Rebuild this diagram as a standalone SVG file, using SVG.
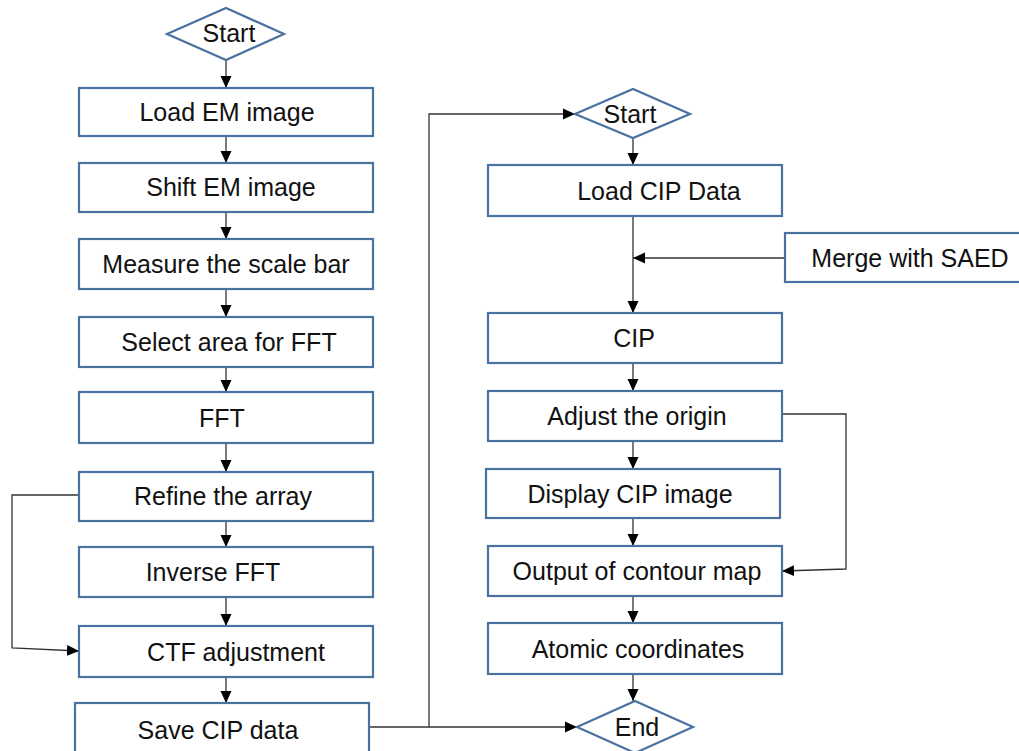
<svg xmlns="http://www.w3.org/2000/svg" width="1019" height="751" viewBox="0 0 1019 751">
<defs>
<marker id="ah" markerUnits="userSpaceOnUse" markerWidth="12" markerHeight="12" viewBox="0 0 12 12" refX="12" refY="6" orient="auto">
<path d="M0,0.5 L12,6 L0,11.5 Z" fill="#000"/>
</marker>
<style>
.box{fill:#fff;stroke:#4a72a0;stroke-width:2.2}
.t{font-family:"Liberation Sans",Arial,sans-serif;font-size:25px;fill:#111;text-anchor:middle}
.c{fill:none;stroke:#333;stroke-width:1.3}
.ca{fill:none;stroke:#333;stroke-width:1.3;marker-end:url(#ah)}
</style>
</defs>
<rect width="1019" height="751" fill="#fff"/>
<g id="connectors">
<path class="ca" d="M226,60 V88"/>
<path class="ca" d="M226,136 V163"/>
<path class="ca" d="M226,212 V239"/>
<path class="ca" d="M226,289 V317"/>
<path class="ca" d="M226,367 V392"/>
<path class="ca" d="M226,443 V472"/>
<path class="ca" d="M226,521 V547"/>
<path class="ca" d="M226,597 V626"/>
<path class="ca" d="M226,677 V703"/>
<path class="ca" d="M79,495 L12,495 L12,648 L79,651"/>
<path class="ca" d="M369,727 L577,727"/>
<path class="ca" d="M429,727 L429,114 L575,114"/>
<path class="ca" d="M633,138 V165"/>
<path class="ca" d="M633,216 V313"/>
<path class="ca" d="M785,258 L633,258"/>
<path class="ca" d="M633,363 V391"/>
<path class="ca" d="M633,441 V469"/>
<path class="ca" d="M633,518 V546"/>
<path class="ca" d="M633,596 V623"/>
<path class="ca" d="M633,674 V701"/>
<path class="ca" d="M782,414 L846,414 L846,569 L782,571"/>
</g>
<g id="start1"><polygon class="box" points="167,34 226,8 284,34 226,60"/><text class="t" x="229" y="42">Start</text></g>
<g id="n1"><rect class="box" x="79" y="88" width="294" height="48"/><text class="t" x="227" y="121">Load EM image</text></g>
<g id="n2"><rect class="box" x="79" y="163" width="294" height="49"/><text class="t" x="231" y="196">Shift EM image</text></g>
<g id="n3"><rect class="box" x="79" y="239" width="294" height="50"/><text class="t" x="226" y="273">Measure the scale bar</text></g>
<g id="n4"><rect class="box" x="79" y="317" width="294" height="50"/><text class="t" x="229" y="351">Select area for FFT</text></g>
<g id="n5"><rect class="box" x="79" y="392" width="294" height="51"/><text class="t" x="222" y="427">FFT</text></g>
<g id="n6"><rect class="box" x="79" y="472" width="294" height="49"/><text class="t" x="223" y="505">Refine the array</text></g>
<g id="n7"><rect class="box" x="79" y="547" width="294" height="50"/><text class="t" x="213" y="581">Inverse FFT</text></g>
<g id="n8"><rect class="box" x="79" y="626" width="294" height="51"/><text class="t" x="236" y="661">CTF adjustment</text></g>
<g id="n9"><rect class="box" x="75" y="703" width="294" height="60"/><text class="t" x="218" y="739">Save CIP data</text></g>
<g id="start2"><polygon class="box" points="575,114 633,89 690,114 633,138"/><text class="t" x="630" y="123">Start</text></g>
<g id="r1"><rect class="box" x="488" y="165" width="294" height="51"/><text class="t" x="659" y="200">Load CIP Data</text></g>
<g id="merge"><rect class="box" x="785" y="233" width="245" height="49"/><text class="t" x="910" y="267">Merge with SAED</text></g>
<g id="r2"><rect class="box" x="488" y="313" width="294" height="50"/><text class="t" x="634" y="347">CIP</text></g>
<g id="r3"><rect class="box" x="488" y="391" width="294" height="50"/><text class="t" x="637" y="425">Adjust the origin</text></g>
<g id="r4"><rect class="box" x="486" y="469" width="294" height="49"/><text class="t" x="630" y="503">Display CIP image</text></g>
<g id="r5"><rect class="box" x="488" y="546" width="294" height="50"/><text class="t" x="637" y="580">Output of contour map</text></g>
<g id="r6"><rect class="box" x="488" y="623" width="294" height="51"/><text class="t" x="638" y="658">Atomic coordinates</text></g>
<g id="end"><polygon class="box" points="577,727 635,701 693,727 635,753"/><text class="t" x="637" y="736">End</text></g>
</svg>
